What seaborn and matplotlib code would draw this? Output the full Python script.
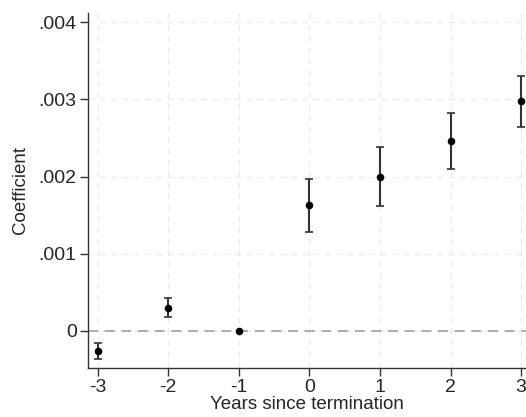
import numpy as np
import pandas as pd
import seaborn as sns
from matplotlib import pyplot as plt

years = [-3, -2, -1, 0, 1, 2, 3]
coef = [-0.00026, 0.000303, 0.0, 0.001627, 0.0020, 0.002458, 0.002974]
ci_low = [-0.000364, 0.000178, 0.0, 0.001286, 0.001619, 0.002095, 0.002645]
ci_high = [-0.000152, 0.000433, 0.0, 0.001970, 0.002386, 0.002822, 0.003299]
yticks = [0, 0.001, 0.002, 0.003, 0.004]
ytick_labels = ['0', '.001', '.002', '.003', '.004']

df = pd.DataFrame({'Year': years, 'Coef': coef, 'Low': ci_low, 'High': ci_high})

sns.set_style('white')
plt.rcParams['font.family'] = ['Liberation Sans', 'DejaVu Sans']

fig = plt.figure(figsize=(5.26, 4.17), dpi=100)
ax = fig.add_axes([0.167, 0.1175, 0.833, 0.8515])

# confidence intervals (skip the reference year)
ci = df[df['Year'] != -1]
ax.errorbar(ci['Year'], ci['Coef'],
            yerr=[ci['Coef'] - ci['Low'], ci['High'] - ci['Coef']],
            fmt='none', ecolor='#333333', elinewidth=1.5, capsize=3, capthick=1.2, zorder=3)
sns.scatterplot(x='Year', y='Coef', data=df, color='black', s=30, edgecolor='black',
                linewidth=0, zorder=4, ax=ax)

ax.axhline(0, color='#a0a0a0', linestyle=(0, (6, 4)), linewidth=1.2, zorder=1)

ax.set_xlim(-3.14, 3.07)
ax.set_ylim(-0.00048, 0.00412)
ax.set_xticks(years)
ax.set_xticklabels([str(y) for y in years])
ax.set_yticks(yticks)
ax.set_yticklabels(ytick_labels)

ax.grid(True, color='#ebebeb', linestyle=(0, (5, 4)), linewidth=0.9)
ax.set_axisbelow(True)
for s in ['top', 'right']:
    ax.spines[s].set_visible(False)
for s in ['left', 'bottom']:
    ax.spines[s].set_color('#333333')
    ax.spines[s].set_linewidth(1.0)

ax.tick_params(axis='both', which='major', direction='out', length=6, width=1,
               color='#333333', labelsize=14, left=True, bottom=True, pad=2)
ax.set_xlabel('Years since termination', fontsize=13.5, labelpad=0)
ax.set_ylabel('Coefficient', fontsize=13.5, labelpad=7)

fig.savefig('out.png', dpi=100)
